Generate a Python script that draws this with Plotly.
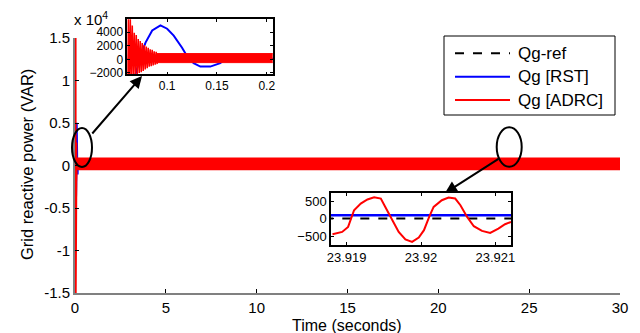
import plotly.graph_objects as go

W, H = 640, 333
FONT = "Liberation Sans, Arial, sans-serif"

# ---------------- data ----------------
main_xticks = [0, 5, 10, 15, 20, 25, 30]
main_yticks = [-15000, -10000, -5000, 0, 5000, 10000, 15000]
main_yticktext = ["-1.5", "-1", "-0.5", "0", "0.5", "1", "1.5"]

# reference
ref_t = [0.0, 30.0]
ref_q = [0.0, 0.0]

# RST response (blue)
rst_t = [0.0, 0.03, 0.05, 0.06, 0.068, 0.0733, 0.0783, 0.085, 0.0933, 0.1, 0.1066,
         0.115, 0.12, 0.1266, 0.1333, 0.1433, 0.1533, 0.16, 0.17, 0.18, 30.0]
rst_q = [0, -3000, -4000, -3500, -2300, 456, 2478, 4256, 5016, 4514, 3496,
         1718, 456, -562, -1064, -1064, -562, 198, 200, 100, 100]

# ADRC transient (red)
adrc_tr_t = [0.000, 0.020, 0.030, 0.032, 0.034, 0.036, 0.038, 0.040, 0.042, 0.044,
             0.046, 0.048, 0.050, 0.052, 0.054, 0.056, 0.058, 0.060, 0.061, 0.062,
             0.063, 0.064, 0.065, 0.066, 0.067, 0.068, 0.069, 0.070, 0.071, 0.072,
             0.073, 0.074, 0.075, 0.076, 0.077, 0.078, 0.079, 0.080, 0.081, 0.082,
             0.083, 0.084, 0.085, 0.086, 0.087, 0.088, 0.089, 0.090]
adrc_tr_q = [0, 0, 16000, -16000, 16000, -16000, 15000, -15500, 14000, -13000,
             12000, -11000, 10000, -9000, 8500, -7500, 7000, -6000, 6500, -4500,
             6200, -3000, 5000, -2600, 3900, -2400, 3600, -2300, 3000, -2000,
             2700, -1900, 2400, -1700, 2100, -1500, 1900, -1300, 1700, -1100,
             1500, -1000, 1400, -900, 1200, -800, 1100, -700]

# ADRC steady oscillation envelope (red band)
adrc_band_t = [0.089, 30.0]
adrc_band_hi = [850, 850]
adrc_band_lo = [-480, -480]

# ADRC detail around t = 23.92 s (inset 2)
adrc_zoom_t = [23.91881, 23.91894, 23.91902, 23.91910, 23.91919, 23.91928, 23.91937,
               23.91946, 23.91952, 23.91961, 23.91970, 23.91979, 23.91988, 23.91997,
               23.92004, 23.92011, 23.92017, 23.92028, 23.92037, 23.92046, 23.92053,
               23.92062, 23.92071, 23.92082, 23.92093, 23.92104, 23.92113, 23.92121]
adrc_zoom_q = [-449, -383, -240, 237, 428, 543, 609,
               571, 331, -49, -383, -600, -669, -543,
               -334, 46, 331, 523, 600, 571, 380,
               46, -220, -354, -411, -286, -163, -97]
zoom_t = [23.9187, 23.9213]
rst_zoom_q = [94, 94]
ref_zoom_q = [0, 0]

# inset ticks
in1_xticks = [0.1, 0.15, 0.2]
in1_xticktext = ["0.1", "0.15", "0.2"]
in1_yticks = [-2000, 0, 2000, 4000]
in2_xticks = [23.919, 23.92, 23.921]
in2_xticktext = ["23.919", "23.92", "23.921"]
in2_yticks = [-500, 0, 500]

legend_names = ["Qg-ref", "Qg [RST]", "Qg [ADRC]"]
colors = ["black", "#0000ff", "#ff0000"]


def px(x):
    return x / W


def py(y):
    return 1 - y / H


fig = go.Figure()

# -------- main axes traces --------
fig.add_trace(go.Scatter(x=ref_t, y=ref_q, mode="lines", line=dict(color="black", dash="dash", width=2),
                         xaxis="x", yaxis="y", showlegend=False, name=legend_names[0]))
fig.add_trace(go.Scatter(x=rst_t, y=rst_q, mode="lines", line=dict(color=colors[1], width=2),
                         xaxis="x", yaxis="y", showlegend=False, name=legend_names[1]))
band_x = [adrc_band_t[0], adrc_band_t[1], adrc_band_t[1], adrc_band_t[0]]
band_y = [adrc_band_hi[0], adrc_band_hi[1], adrc_band_lo[1], adrc_band_lo[0]]
fig.add_trace(go.Scatter(x=band_x, y=band_y, mode="lines", fill="toself", fillcolor=colors[2],
                         line=dict(color=colors[2], width=1.5), xaxis="x", yaxis="y",
                         showlegend=False, name=legend_names[2]))
fig.add_trace(go.Scatter(x=adrc_tr_t, y=adrc_tr_q, mode="lines", line=dict(color=colors[2], width=2),
                         xaxis="x", yaxis="y", showlegend=False, name=legend_names[2]))

# -------- inset 1 traces --------
fig.add_trace(go.Scatter(x=ref_t, y=ref_q, mode="lines", line=dict(color="black", dash="dash", width=1.5),
                         xaxis="x2", yaxis="y2", showlegend=False))
fig.add_trace(go.Scatter(x=rst_t, y=rst_q, mode="lines", line=dict(color=colors[1], width=2),
                         xaxis="x2", yaxis="y2", showlegend=False))
fig.add_trace(go.Scatter(x=band_x, y=band_y, mode="lines", fill="toself", fillcolor=colors[2],
                         line=dict(color=colors[2], width=1), xaxis="x2", yaxis="y2", showlegend=False))
fig.add_trace(go.Scatter(x=adrc_tr_t, y=adrc_tr_q, mode="lines", line=dict(color=colors[2], width=1.5),
                         xaxis="x2", yaxis="y2", showlegend=False))

# -------- inset 2 traces --------
fig.add_trace(go.Scatter(x=zoom_t, y=rst_zoom_q, mode="lines", line=dict(color=colors[1], width=2.5),
                         xaxis="x3", yaxis="y3", showlegend=False))
fig.add_trace(go.Scatter(x=zoom_t, y=ref_zoom_q, mode="lines",
                         line=dict(color="black", dash="dash", width=2),
                         xaxis="x3", yaxis="y3", showlegend=False))
fig.add_trace(go.Scatter(x=adrc_zoom_t, y=adrc_zoom_q, mode="lines", line=dict(color=colors[2], width=2),
                         xaxis="x3", yaxis="y3", showlegend=False))

tickfont_main = dict(family=FONT, size=15, color="black")
tickfont_in1 = dict(family=FONT, size=12, color="black")
tickfont_in2 = dict(family=FONT, size=13, color="black")

inset_common = dict(showgrid=False, zeroline=False, showline=True, linecolor="black", linewidth=1.5,
                    mirror="ticks", ticks="inside", ticklen=3, tickcolor="black", automargin=False)

fig.update_layout(
    width=W, height=H, margin=dict(l=0, r=0, t=0, b=0, autoexpand=False),
    paper_bgcolor="white", plot_bgcolor="white", showlegend=False,
    font=dict(family=FONT, color="black"),
    xaxis=dict(domain=[px(75), px(620)], range=[0, 30], tickvals=main_xticks,
               showgrid=False, zeroline=False, showline=True, linecolor="#808080", linewidth=2,
               ticks="inside", ticklen=4, tickcolor="black", tickfont=tickfont_main,
               automargin=False, anchor="y"),
    yaxis=dict(domain=[py(293), py(38)], range=[-15000, 15000], tickvals=main_yticks,
               ticktext=main_yticktext,
               showgrid=False, zeroline=False, showline=True, linecolor="#808080", linewidth=2,
               ticks="inside", ticklen=4, tickcolor="black", tickfont=tickfont_main,
               automargin=False, anchor="x"),
    xaxis2=dict(domain=[px(127.3), px(272.7)], range=[0.06, 0.206], tickvals=in1_xticks,
                ticktext=in1_xticktext, anchor="y2", tickfont=tickfont_in1, **inset_common),
    yaxis2=dict(domain=[py(74.3), py(19.3)], range=[-2200, 5900], tickvals=in1_yticks,
                anchor="x2", tickfont=tickfont_in1, **inset_common),
    xaxis3=dict(domain=[px(331), px(511)], range=[23.91879, 23.92121], tickvals=in2_xticks,
                ticktext=in2_xticktext, anchor="y3", tickfont=tickfont_in2, **inset_common),
    yaxis3=dict(domain=[py(245), py(193)], range=[-757, 729], tickvals=in2_yticks,
                anchor="x3", tickfont=tickfont_in2, **inset_common),
)

shapes = []
annotations = []

# axis titles
annotations.append(dict(xref="paper", yref="paper", x=px(347), y=py(325), xanchor="center", yanchor="middle",
                        text="Time (seconds)", showarrow=False, font=dict(family=FONT, size=16)))
annotations.append(dict(xref="paper", yref="paper", x=px(27), y=py(165), xanchor="center", yanchor="middle",
                        text="Grid reactive power (VAR)", textangle=-90, showarrow=False,
                        font=dict(family=FONT, size=16.5)))

# ellipses marking the zoomed regions
shapes.append(dict(type="circle", xref="paper", yref="paper", x0=px(72), x1=px(92), y0=py(167), y1=py(128),
                   line=dict(color="black", width=2)))
shapes.append(dict(type="circle", xref="paper", yref="paper", x0=px(496.7), x1=px(521.7), y0=py(166.7),
                   y1=py(127.3), line=dict(color="black", width=2)))

# arrows
annotations.append(dict(xref="paper", yref="paper", x=px(142), y=py(76), ax=-51, ay=59, text="",
                        showarrow=True, arrowhead=2, arrowsize=1.2, arrowwidth=2, arrowcolor="black"))
annotations.append(dict(xref="paper", yref="paper", x=px(445), y=py(193), ax=55, ay=-35, text="",
                        showarrow=True, arrowhead=2, arrowsize=1.2, arrowwidth=2, arrowcolor="black"))

# exponent label
annotations.append(dict(xref="paper", yref="paper", x=px(72), y=py(18), xanchor="left", yanchor="middle",
                        text="x 10<sup>4</sup>", showarrow=False, font=dict(family=FONT, size=15)))

# legend (drawn manually to match box size)
shapes.append(dict(type="rect", xref="paper", yref="paper", x0=px(444), x1=px(615), y0=py(115), y1=py(36),
                   line=dict(color="black", width=1), fillcolor="white", layer="above"))
leg_y = [53.3, 76.7, 100]
leg_dash = ["dash", "solid", "solid"]
for name, col, yy, ds in zip(legend_names, colors, leg_y, leg_dash):
    shapes.append(dict(type="line", xref="paper", yref="paper", x0=px(455), x1=px(510), y0=py(yy), y1=py(yy),
                       line=dict(color=col, width=2, dash=ds)))
    annotations.append(dict(xref="paper", yref="paper", x=px(516), y=py(yy), xanchor="left", yanchor="middle",
                            text=name, showarrow=False, font=dict(family=FONT, size=17, color="black")))

fig.update_layout(shapes=shapes, annotations=annotations)

fig.write_html("out.html")
